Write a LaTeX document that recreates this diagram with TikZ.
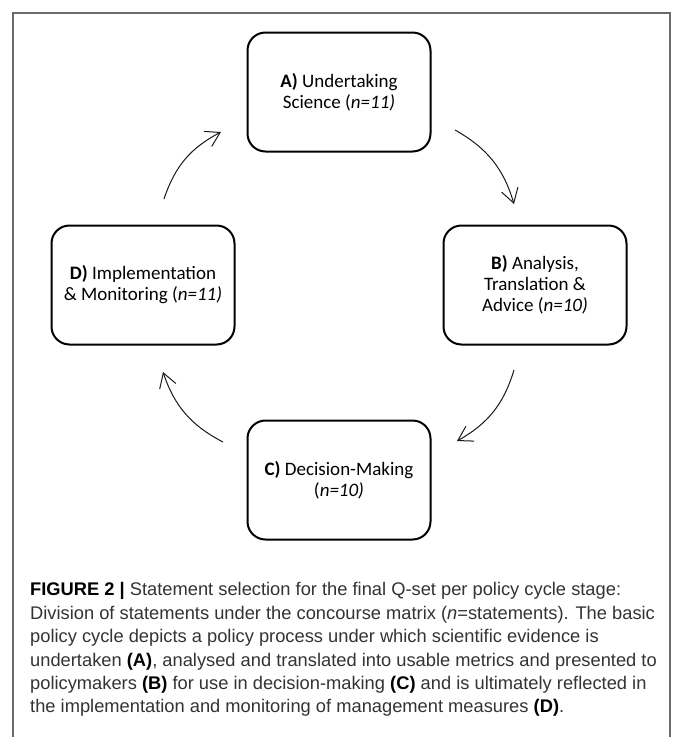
\documentclass[tikz,border=0pt]{standalone}
\usepackage{fontspec}
\usetikzlibrary{arrows.meta}
\newfontfamily\boxfont{Carlito}
\newfontfamily\capfont{Liberation Sans}
\definecolor{framegray}{rgb}{0.42,0.42,0.42}
\definecolor{captext}{rgb}{0.2,0.2,0.2}
\begin{document}
\begin{tikzpicture}[x=1pt,y=1pt,
  stage/.style={draw=black,line width=2pt,rounded corners=18pt,minimum width=183pt,minimum height=119pt,
    align=center,inner sep=0pt,font=\boxfont\fontsize{19}{21}\selectfont},
  flow/.style={-{Straight Barb[length=14pt,width=17pt]},line width=1pt,black!90,bend left=22}]
\useasboundingbox (0,0) rectangle (673,-737);
\draw[framegray,line width=1.3pt] (13,-740) -- (13,-13) -- (670,-13) -- (670,-740);
\node[stage] (A) at (339,-92) {\textbf{A)} Undertaking\\Science (\textit{n=11)}};
\node[stage] (B) at (535,-285) {\textbf{B)} Analysis,\\Translation \&\\Advice (\textit{n=10)}};
\node[stage] (C) at (339,-480) {\textbf{C)} Decision-Making\\(\textit{n=10)}};
\node[stage] (D) at (143,-285) {\textbf{D)} Implementation\\\& Monitoring (\textit{n=11)}};
\coordinate (ab1) at (455,-130); \coordinate (ab2) at (514,-204);
\coordinate (bc1) at (514,-370); \coordinate (bc2) at (457,-441);
\coordinate (cd1) at (223,-442); \coordinate (cd2) at (163,-372);
\coordinate (da1) at (164,-199); \coordinate (da2) at (221,-132);
\draw[flow] (ab1) to (ab2);
\draw[flow] (bc1) to (bc2);
\draw[flow] (cd1) to (cd2);
\draw[flow] (da1) to (da2);
\node[anchor=north west,align=left,inner sep=0pt,text=captext,
  font=\capfont\fontsize{18.3}{23.4}\selectfont] (cap) at (30,-582.5)
  {\textcolor{black}{\textbf{FIGURE 2 |}} Statement selection for the final Q-set per policy cycle stage:\\
   Division of statements under the concourse matrix (\textit{n}=statements). The basic\\
   policy cycle depicts a policy process under which scientific evidence is\\
   undertaken \textcolor{black}{\textbf{(A)}}, analysed and translated into usable metrics and presented to\\
   policymakers \textcolor{black}{\textbf{(B)}} for use in decision-making \textcolor{black}{\textbf{(C)}} and is ultimately reflected in\\
   the implementation and monitoring of management measures \textcolor{black}{\textbf{(D)}}.};
\end{tikzpicture}
\end{document}
